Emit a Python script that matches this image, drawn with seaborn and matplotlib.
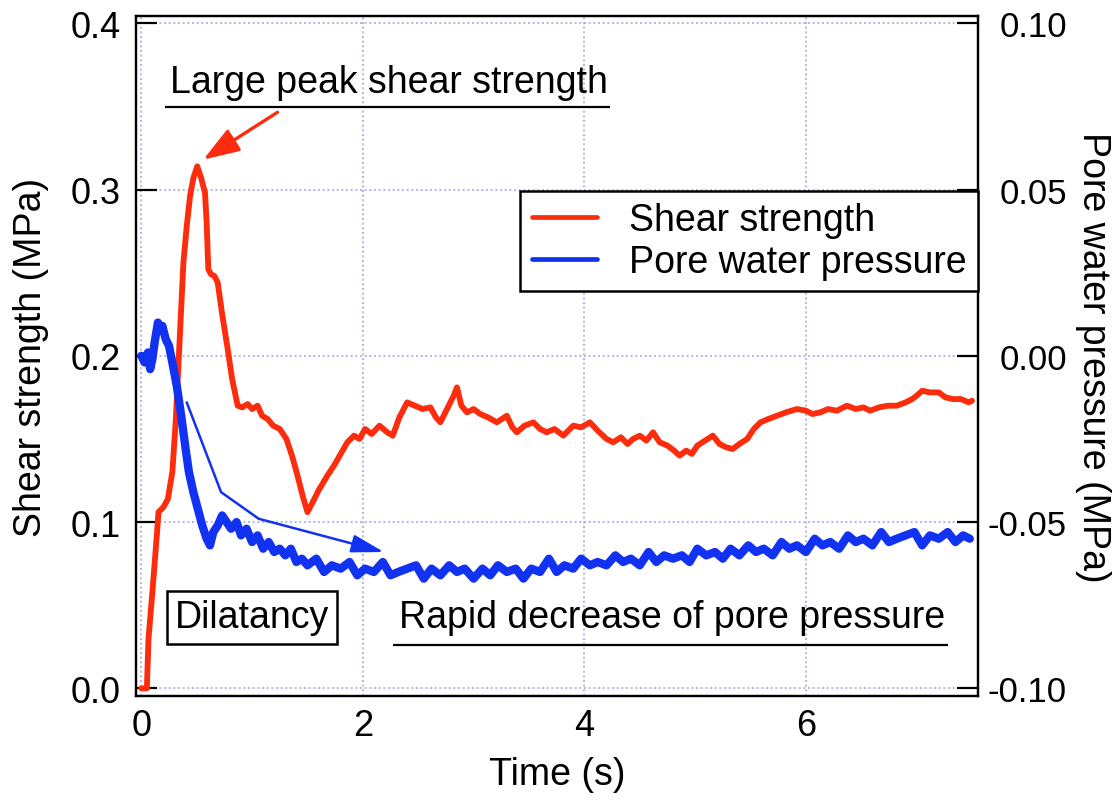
import matplotlib
matplotlib.use("Agg")
import matplotlib.pyplot as plt
import seaborn as sns
import pandas as pd

# Shear strength (MPa) against time (s)
time_shear = [0.00, 0.05, 0.065, 0.10, 0.14, 0.155, 0.20, 0.24, 0.28, 0.31, 0.35, 0.38, 0.41, 0.44,
              0.47, 0.505, 0.54, 0.575, 0.59, 0.605, 0.63, 0.66, 0.69, 0.73, 0.78, 0.82, 0.87, 0.91,
              0.96, 1.00, 1.05, 1.09, 1.14, 1.19, 1.25, 1.31, 1.36, 1.41, 1.46, 1.50, 1.54, 1.60,
              1.68, 1.74, 1.80, 1.86, 1.92, 1.97, 2.02, 2.08, 2.15, 2.22, 2.27, 2.33, 2.40, 2.47,
              2.54, 2.61, 2.66, 2.70, 2.76, 2.82, 2.85, 2.89, 2.94, 3.00, 3.06, 3.13, 3.21, 3.30,
              3.35, 3.39, 3.46, 3.54, 3.60, 3.66, 3.73, 3.81, 3.90, 3.97, 4.05, 4.12, 4.20, 4.26,
              4.33, 4.39, 4.44, 4.50, 4.56, 4.62, 4.68, 4.75, 4.81, 4.86, 4.92, 4.97, 5.02, 5.09,
              5.16, 5.22, 5.28, 5.34, 5.40, 5.47, 5.53, 5.59, 5.66, 5.74, 5.82, 5.92, 6.00, 6.06,
              6.13, 6.20, 6.28, 6.37, 6.45, 6.52, 6.58, 6.66, 6.74, 6.82, 6.90, 6.96, 7.00, 7.05,
              7.12, 7.20, 7.26, 7.33, 7.40, 7.47, 7.50]
shear_strength = [0.000, 0.000, 0.030, 0.058, 0.092, 0.106, 0.109, 0.114, 0.130, 0.160, 0.215, 0.256,
                  0.278, 0.296, 0.307, 0.314, 0.307, 0.298, 0.280, 0.252, 0.249, 0.248, 0.244, 0.225,
                  0.204, 0.186, 0.170, 0.169, 0.171, 0.168, 0.170, 0.164, 0.162, 0.158, 0.156, 0.150,
                  0.140, 0.128, 0.115, 0.106, 0.111, 0.119, 0.128, 0.134, 0.141, 0.148, 0.152, 0.150,
                  0.156, 0.153, 0.158, 0.154, 0.152, 0.163, 0.172, 0.170, 0.168, 0.169, 0.163, 0.160,
                  0.168, 0.176, 0.181, 0.170, 0.166, 0.168, 0.165, 0.163, 0.160, 0.164, 0.157, 0.154,
                  0.158, 0.160, 0.156, 0.154, 0.156, 0.152, 0.158, 0.157, 0.160, 0.155, 0.150, 0.148,
                  0.151, 0.147, 0.150, 0.152, 0.149, 0.154, 0.148, 0.146, 0.143, 0.140, 0.143, 0.141,
                  0.146, 0.149, 0.152, 0.147, 0.145, 0.144, 0.147, 0.150, 0.156, 0.160, 0.162, 0.164,
                  0.166, 0.168, 0.167, 0.165, 0.166, 0.168, 0.167, 0.170, 0.168, 0.169, 0.167, 0.169,
                  0.170, 0.170, 0.172, 0.174, 0.176, 0.179, 0.178, 0.178, 0.175, 0.174, 0.174, 0.172,
                  0.173]

# Pore water pressure (MPa) against time (s)
time_pore = [0.00, 0.03, 0.06, 0.08, 0.10, 0.12, 0.15, 0.17, 0.19, 0.22, 0.25, 0.28, 0.32, 0.36,
             0.40, 0.43, 0.47, 0.51, 0.55, 0.59, 0.62, 0.65, 0.69, 0.73, 0.77, 0.81, 0.86, 0.90,
             0.95, 1.00, 1.05, 1.10, 1.15, 1.20, 1.25, 1.30, 1.35, 1.40, 1.45, 1.50, 1.58, 1.65,
             1.72, 1.80, 1.88, 1.95, 2.02, 2.10, 2.18, 2.25, 2.32, 2.40, 2.48, 2.55, 2.62, 2.70,
             2.78, 2.85, 2.92, 3.00, 3.08, 3.15, 3.22, 3.30, 3.38, 3.45, 3.52, 3.60, 3.68, 3.75,
             3.82, 3.90, 3.97, 4.05, 4.12, 4.20, 4.28, 4.35, 4.42, 4.50, 4.58, 4.65, 4.72, 4.80,
             4.88, 4.95, 5.02, 5.10, 5.18, 5.25, 5.32, 5.40, 5.48, 5.55, 5.62, 5.70, 5.78, 5.85,
             5.92, 6.00, 6.08, 6.15, 6.22, 6.30, 6.38, 6.45, 6.52, 6.60, 6.68, 6.75, 6.82, 6.90,
             6.98, 7.05, 7.12, 7.20, 7.28, 7.35, 7.42, 7.48]
pore_pressure = [0.000, -0.002, 0.001, -0.004, -0.001, 0.004, 0.010, 0.008, 0.009, 0.005, 0.003,
                 -0.002, -0.009, -0.018, -0.028, -0.035, -0.041, -0.046, -0.051, -0.055, -0.057,
                 -0.053, -0.051, -0.048, -0.050, -0.052, -0.050, -0.054, -0.052, -0.056, -0.054,
                 -0.058, -0.056, -0.059, -0.058, -0.060, -0.058, -0.062, -0.061, -0.063, -0.061,
                 -0.065, -0.063, -0.064, -0.062, -0.066, -0.064, -0.065, -0.062, -0.066, -0.065,
                 -0.064, -0.063, -0.067, -0.064, -0.066, -0.063, -0.065, -0.064, -0.067, -0.064,
                 -0.066, -0.063, -0.065, -0.064, -0.067, -0.064, -0.065, -0.061, -0.065, -0.063,
                 -0.064, -0.061, -0.063, -0.062, -0.063, -0.060, -0.062, -0.061, -0.063, -0.059,
                 -0.062, -0.060, -0.061, -0.060, -0.062, -0.058, -0.060, -0.059, -0.061, -0.058,
                 -0.060, -0.057, -0.059, -0.058, -0.060, -0.056, -0.058, -0.057, -0.059, -0.055,
                 -0.057, -0.056, -0.058, -0.054, -0.056, -0.055, -0.057, -0.053, -0.056, -0.055,
                 -0.054, -0.053, -0.057, -0.054, -0.055, -0.053, -0.056, -0.054, -0.055]

x_ticks = [0, 2, 4, 6]
shear_ticks = [0.0, 0.1, 0.2, 0.3, 0.4]
shear_tick_labels = ["0.0", "0.1", "0.2", "0.3", "0.4"]
pore_ticks = [-0.10, -0.05, 0.00, 0.05, 0.10]
pore_tick_labels = ["-0.10", "-0.05", "0.00", "0.05", "0.10"]

RED = "#fc2c0c"
BLUE = "#1232f2"
GRID = "#a9a9e6"
FS = 27

sns.set_style("white")
plt.rcParams["font.family"] = ["Liberation Sans", "DejaVu Sans"]
plt.rcParams["axes.unicode_minus"] = False
for key in ("text.color", "axes.labelcolor", "xtick.color", "ytick.color"):
    plt.rcParams[key] = "black"

fig = plt.figure(figsize=(11.2, 8.04), dpi=100)
ax = fig.add_axes([136 / 1120, 1 - 697 / 804, (978 - 136) / 1120, (697 - 17) / 804])
ax2 = ax.twinx()

shear_df = pd.DataFrame({"Time": time_shear, "Shear": shear_strength})
pore_df = pd.DataFrame({"Time": time_pore, "Pore": pore_pressure})

sns.lineplot(data=shear_df, x="Time", y="Shear", ax=ax, color=RED, lw=4.2,
             estimator=None, sort=False, label="Shear strength", legend=False)
sns.lineplot(data=pore_df, x="Time", y="Pore", ax=ax2, color=BLUE, lw=6.0,
             estimator=None, sort=False, label="Pore water pressure", legend=False)

# axis ranges: right axis is tied to the left one (0.2 MPa shear <-> 0.00 MPa pore)
ylim1 = (-0.0046, 0.4044)
ax.set_xlim(-0.048, 7.554)
ax.set_ylim(*ylim1)
ax2.set_ylim((ylim1[0] - 0.2) / 2, (ylim1[1] - 0.2) / 2)

ax.set_xticks(x_ticks)
ax.set_xticklabels([str(v) for v in x_ticks])
ax.set_yticks(shear_ticks)
ax.set_yticklabels(shear_tick_labels)
ax2.set_yticks(pore_ticks)
ax2.set_yticklabels(pore_tick_labels, ha="right")

ax.grid(True, color=GRID, linestyle=(0, (1.2, 1.6)), lw=1.2)
ax2.grid(False)

for a in (ax, ax2):
    for sp in a.spines.values():
        sp.set_color("black")
        sp.set_linewidth(1.6)
        sp.set_visible(True)

ax.tick_params(axis="both", direction="in", length=15, width=1.6, color="black",
               labelsize=FS - 1, pad=11)
ax.tick_params(axis="x", pad=9)
ax.tick_params(axis="y", right=False)
ax.tick_params(axis="x", top=False)
ax2.tick_params(axis="y", direction="in", length=15, width=1.6, color="black",
                labelsize=FS - 2, pad=64)

ax.set_xlabel("Time (s)", fontsize=FS, va="center")
ax.set_ylabel("Shear strength (MPa)", fontsize=FS, va="center")
ax2.set_ylabel("Pore water pressure (MPa)", fontsize=FS, rotation=270, va="center")
ax.xaxis.set_label_coords(0.5, (697 - 775) / 680)
ax.yaxis.set_label_coords((31 - 136) / 842, 0.5)
ax2.yaxis.set_label_coords((1093 - 136) / 842, 0.5)

# annotations
ax.text(0.262, 0.365, "Large peak shear strength", fontsize=FS, ha="left", va="center")
ax.plot([0.217, 4.23], [0.3495, 0.3495], color="black", lw=1.6, solid_capstyle="butt")
ax.annotate("", xy=(0.56, 0.318), xytext=(1.23, 0.3465),
            arrowprops=dict(arrowstyle="-|>,head_length=1.0,head_width=0.35",
                            color=RED, lw=2.4, shrinkA=0, shrinkB=0, mutation_scale=22))

ax.plot([0.41, 0.72, 1.06], [0.172, 0.118, 0.102], color=BLUE, lw=1.8, solid_capstyle="round")
ax.annotate("", xy=(2.19, 0.082), xytext=(1.06, 0.102),
            arrowprops=dict(arrowstyle="-|>,head_length=0.9,head_width=0.25",
                            color=BLUE, lw=1.8, shrinkA=0, shrinkB=0, mutation_scale=22))

ax.text(1.0, 0.0427, "Dilatancy", fontsize=FS, ha="center", va="center",
        bbox=dict(boxstyle="square,pad=0.22", fc="white", ec="black", lw=1.8))
ax.text(4.79, 0.043, "Rapid decrease of pore pressure", fontsize=FS, ha="center", va="center")
ax.plot([2.27, 7.28], [0.0259, 0.0259], color="black", lw=1.6, solid_capstyle="butt")

handles = ax.get_lines()[:1] + ax2.get_lines()[:1]
leg = ax2.legend(handles, ["Shear strength", "Pore water pressure"],
                 loc="upper right", bbox_to_anchor=(978 / 1120, 1 - 192 / 804),
                 bbox_transform=fig.transFigure, borderaxespad=0, frameon=True,
                 fancybox=False, edgecolor="black", framealpha=1, fontsize=FS,
                 handlelength=1.75, handletextpad=0.85, borderpad=0.3, labelspacing=0.15)
leg.get_frame().set_linewidth(1.8)
for h in leg.legend_handles:
    h.set_linewidth(3.4)

fig.savefig("out.png", dpi=100)
